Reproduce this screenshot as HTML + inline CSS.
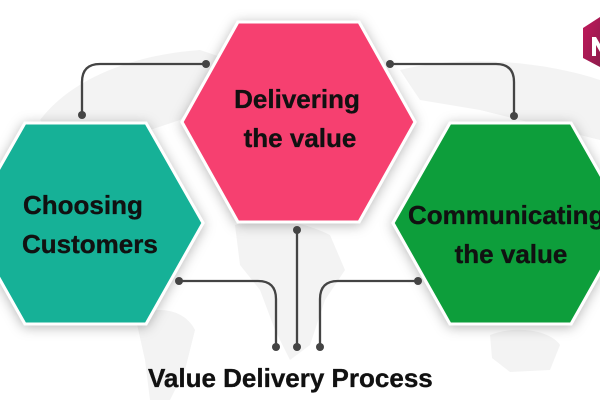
<!DOCTYPE html>
<html>
<head>
<meta charset="utf-8">
<style>
html,body{margin:0;padding:0;background:#fff;}
body{width:600px;height:400px;overflow:hidden;}
svg{display:block;}
text{font-family:"Liberation Sans",Arial,sans-serif;font-weight:bold;fill:#111;stroke:#111;stroke-width:0.35px;}
</style>
</head>
<body>
<svg width="600" height="400" viewBox="0 0 600 400" xmlns="http://www.w3.org/2000/svg">
  <defs>
    <filter id="sh" x="-20%" y="-20%" width="140%" height="140%">
      <feDropShadow dx="0" dy="2" stdDeviation="6" flood-color="#000" flood-opacity="0.28"/>
    </filter>
    <linearGradient id="lg" x1="0" y1="0" x2="1" y2="1">
      <stop offset="0" stop-color="#c2185b"/>
      <stop offset="1" stop-color="#8e1c4c"/>
    </linearGradient>
  </defs>
  <rect width="600" height="400" fill="#fff"/>
  <!-- faint world map -->
  <g fill="#f3f3f3">
    <path d="M40,120 C70,80 130,55 200,50 L230,60 L180,120 L120,140 L70,150 Z"/>
    <path d="M400,70 C460,55 540,60 600,80 L600,140 L560,130 L480,110 L420,100 Z"/>
    <path d="M235,225 C260,215 300,220 330,235 L345,270 L325,300 L310,345 L290,360 L275,330 L260,290 L240,265 Z"/>
    <path d="M135,315 C160,305 185,310 195,330 L185,370 L170,400 L150,400 L145,360 Z"/>
    <path d="M490,335 C515,325 550,330 560,345 L550,370 L510,372 L492,358 Z"/>
  </g>

  <!-- hexagons -->
  <g filter="url(#sh)" stroke="#fff" stroke-width="3" stroke-linejoin="miter">
    <polygon points="238,22 359,22 415,122 359,222 238,222 182,122" fill="#f6416f"/>
    <polygon points="25,123 146,123 203,223 146,324 25,324 -32,223" fill="#13b197"/>
    <polygon points="450,123 571,123 628,223 571,324 450,324 393,223" fill="#0e9e3b"/>
  </g>

  <!-- logo -->
  <polygon points="600,17 583,28 583,58 600,67" fill="url(#lg)"/>
  <path d="M592,37 L596,37 L600,44 L600,52 L596,45 L596,56 L592,56 Z" fill="#fff"/>

  <!-- connectors -->
  <g fill="none" stroke="#444" stroke-width="2.3" stroke-linecap="round">
    <path d="M206,64 L100,64 Q82,64 82,82 L82,115"/>
    <path d="M390,64 L496,64 Q514,64 514,82 L514,116"/>
    <path d="M179,281 L258,281 Q276,281 276,299 L276,347"/>
    <path d="M297,230 L297,347"/>
    <path d="M418,281 L338,281 Q320,281 320,299 L320,347"/>
  </g>
  <g fill="#444">
    <circle cx="206" cy="64" r="4"/>
    <circle cx="82" cy="115" r="4"/>
    <circle cx="390" cy="64" r="4"/>
    <circle cx="514" cy="116" r="4"/>
    <circle cx="179" cy="281" r="4"/>
    <circle cx="276" cy="347" r="4"/>
    <circle cx="297" cy="230" r="4"/>
    <circle cx="297" cy="347" r="4"/>
    <circle cx="418" cy="281" r="4"/>
    <circle cx="320" cy="347" r="4"/>
  </g>

  <!-- labels -->
  <text x="297" y="108" font-size="26" text-anchor="middle">Delivering</text>
  <text x="300" y="147" font-size="26" text-anchor="middle">the value</text>
  <text x="23" y="214" font-size="26">Choosing</text>
  <text x="22" y="253" font-size="26">Customers</text>
  <text x="408" y="224" font-size="26">Communicating</text>
  <text x="511" y="263" font-size="26" text-anchor="middle">the value</text>
  <text x="148" y="387" font-size="26">Value Delivery Process</text>
</svg>
</body>
</html>
